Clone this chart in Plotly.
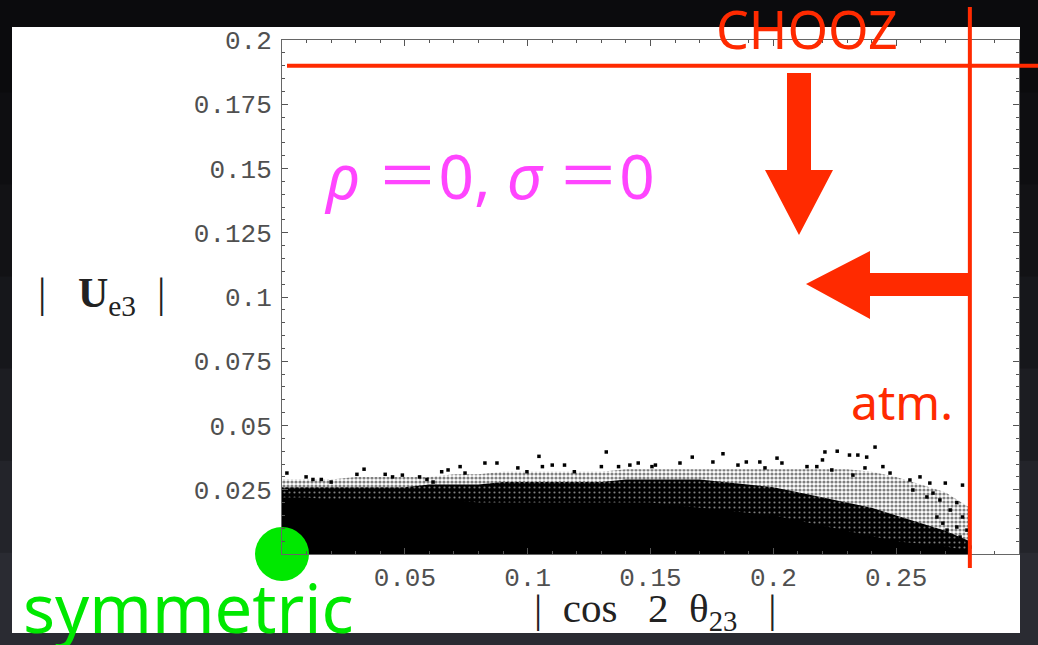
import plotly.graph_objects as go

# ---------------- data ----------------
x_grid = [0.00, 0.01, 0.02, 0.03, 0.04, 0.05, 0.06, 0.07, 0.08, 0.09, 0.10, 0.11, 0.12, 0.13, 0.14,
          0.15, 0.16, 0.17, 0.18, 0.19, 0.20, 0.21, 0.22, 0.23, 0.24, 0.25, 0.26, 0.27, 0.28]
# top of the solid black (saturated) band of points
ue3_core = [0.022, 0.022, 0.021, 0.021, 0.021, 0.021, 0.021, 0.021, 0.020, 0.020, 0.020, 0.020, 0.020,
            0.020, 0.020, 0.020, 0.019, 0.018, 0.017, 0.016, 0.015, 0.013, 0.011, 0.009, 0.007, 0.005,
            0.004, 0.003, 0.001]
# top of the dense dotted fringe
ue3_inner = [0.026, 0.026, 0.026, 0.026, 0.026, 0.026, 0.027, 0.027, 0.027, 0.028, 0.028, 0.028, 0.028,
             0.028, 0.029, 0.029, 0.029, 0.029, 0.028, 0.027, 0.026, 0.024, 0.022, 0.020, 0.018, 0.015,
             0.012, 0.009, 0.005]
# top of the sparse fringe
ue3_outer = [0.029, 0.029, 0.029, 0.030, 0.030, 0.030, 0.030, 0.031, 0.031, 0.032, 0.032, 0.032, 0.032,
             0.032, 0.033, 0.033, 0.033, 0.033, 0.033, 0.033, 0.033, 0.033, 0.033, 0.033, 0.032, 0.030,
             0.027, 0.024, 0.018]

# isolated points above the band
out_x = [0.002, 0.0098, 0.0126, 0.016, 0.020, 0.0305, 0.0334, 0.042, 0.045, 0.049, 0.056, 0.059, 0.0615,
         0.065, 0.0676, 0.0725, 0.0745, 0.0826, 0.0875, 0.096, 0.0997, 0.1046, 0.106, 0.110, 0.115, 0.119,
         0.130, 0.132, 0.137, 0.1416, 0.145, 0.1506, 0.152, 0.162, 0.167, 0.1754, 0.1795, 0.1856, 0.189,
         0.1945, 0.1966, 0.2015, 0.2035, 0.2137, 0.2177, 0.220, 0.221, 0.2238, 0.226, 0.231, 0.2344, 0.238,
         0.2414, 0.2446, 0.2475, 0.2373, 0.2324, 0.2556, 0.2597, 0.2637, 0.270, 0.277, 0.2678, 0.265,
         0.2747, 0.2568, 0.2625, 0.272, 0.277, 0.2788, 0.2747, 0.269, 0.2666, 0.277, 0.276, 0.2707, 0.280]
out_y = [0.0315, 0.030, 0.029, 0.029, 0.028, 0.031, 0.033, 0.031, 0.030, 0.0307, 0.030, 0.029, 0.028,
         0.032, 0.0327, 0.034, 0.0315, 0.0354, 0.0354, 0.0335, 0.032, 0.038, 0.034, 0.0346, 0.0346, 0.032,
         0.034, 0.0397, 0.034, 0.0346, 0.0354, 0.034, 0.0346, 0.0354, 0.0377, 0.0358, 0.039, 0.0346, 0.0358,
         0.0358, 0.0335, 0.0373, 0.0354, 0.034, 0.034, 0.0366, 0.0397, 0.0327, 0.040, 0.0385, 0.0385, 0.0377,
         0.0416, 0.034, 0.0315, 0.0335, 0.0307, 0.0288, 0.030, 0.0276, 0.0276, 0.0268, 0.021, 0.0237,
         0.020, 0.0249, 0.0222, 0.0171, 0.0144, 0.0093, 0.0105, 0.012, 0.0144, 0.0043, 0.0066, 0.0093, 0.0027]

sym_x = [0.0]
sym_y = [0.0]

chooz_ue3 = 0.19       # horizontal CHOOZ bound
atm_cos = 0.28         # vertical atmospheric bound

x_ticks = [0.05, 0.10, 0.15, 0.20, 0.25]
x_ticktext = ["0.05", "0.1", "0.15", "0.2", "0.25"]
y_ticks = [0.025, 0.05, 0.075, 0.10, 0.125, 0.15, 0.175, 0.20]
y_ticktext = ["0.025", "0.05", "0.075", "0.1", "0.125", "0.15", "0.175", "0.2"]

X_RANGE = [0.0, 0.3]
Y_RANGE = [0.0, 0.2]

# ---------------- layout geometry ----------------
FW, FH = 1038, 645
L, R, T, B = 282, 19, 40, 91
PW, PH = FW - L - R, FH - T - B


def px(p):   # pixel x -> paper x
    return (p - L) / PW


def py(p):   # pixel y -> paper y
    return (FH - B - p) / PH


def dx(v):   # data x -> paper x
    return (v - X_RANGE[0]) / (X_RANGE[1] - X_RANGE[0])


def dy(v):   # data y -> paper y
    return (v - Y_RANGE[0]) / (Y_RANGE[1] - Y_RANGE[0])


RED = "#ff2a00"
MAGENTA = "#ff45ff"
GREEN = "#00e800"
NB = "\u00a0"

fig = go.Figure()

fig.add_trace(go.Scatter(
    x=x_grid, y=ue3_outer, mode="lines", line=dict(width=0), fill="tozeroy",
    fillcolor="white",
    fillpattern=dict(shape=".", fgcolor="black", bgcolor="white", size=4, solidity=0.5),
    hoverinfo="skip", showlegend=False))
fig.add_trace(go.Scatter(
    x=x_grid, y=ue3_inner, mode="lines", line=dict(width=0), fill="tozeroy",
    fillcolor="black",
    fillpattern=dict(shape=".", fgcolor="white", bgcolor="black", size=5, solidity=0.15),
    hoverinfo="skip", showlegend=False))
fig.add_trace(go.Scatter(
    x=x_grid, y=ue3_core, mode="lines", line=dict(width=0, color="black"), fill="tozeroy",
    fillcolor="black", hoverinfo="skip", showlegend=False))
fig.add_trace(go.Scatter(
    x=out_x, y=out_y, mode="markers",
    marker=dict(symbol="square", size=3.5, color="black", line=dict(width=0)),
    showlegend=False))
fig.add_trace(go.Scatter(
    x=sym_x, y=sym_y, mode="markers", cliponaxis=False,
    marker=dict(size=54, color=GREEN, line=dict(width=0)), showlegend=False))

shapes = []
# dark slide background (slightly lighter towards the bottom)
bands = ["#0b0b0d", "#0e0e11", "#121215", "#16171b", "#1c1d22", "#23242a", "#2a2b32"]
nb = len(bands)
for i, c in enumerate(bands):
    shapes.append(dict(type="rect", xref="paper", yref="paper", layer="below",
                       x0=px(0), x1=px(FW), y0=py(FH * (i + 1) / nb + 1), y1=py(FH * i / nb),
                       fillcolor=c, line=dict(width=0)))
# white figure panel
shapes.append(dict(type="rect", xref="paper", yref="paper", layer="below",
                   x0=px(12), x1=px(1020), y0=py(633), y1=py(27),
                   fillcolor="white", line=dict(width=0)))
# CHOOZ line and atmospheric line
shapes.append(dict(type="line", xref="paper", yref="paper", layer="above",
                   x0=px(287), x1=px(FW + 2), y0=dy(chooz_ue3), y1=dy(chooz_ue3),
                   line=dict(color=RED, width=4)))
shapes.append(dict(type="line", xref="paper", yref="paper", layer="above",
                   x0=dx(atm_cos), x1=dx(atm_cos), y0=py(568), y1=py(7),
                   line=dict(color=RED, width=4)))


def poly(points):
    return "M " + " L ".join(f"{px(a):.5f},{py(b):.5f}" for a, b in points) + " Z"


down_arrow = [(787, 73), (811, 73), (811, 170), (833, 170), (799, 235), (765, 170), (787, 170)]
left_arrow = [(968, 273), (968, 296), (870, 296), (870, 319), (806, 284), (870, 251), (870, 273)]
for pts in (down_arrow, left_arrow):
    shapes.append(dict(type="path", xref="paper", yref="paper", layer="above", path=poly(pts),
                       fillcolor=RED, line=dict(width=0)))

annotations = [
    dict(text="CHOOZ", x=px(807), y=py(28), font=dict(family="Noto Sans", size=52, color=RED)),
    dict(text="atm.", x=px(902), y=py(402), font=dict(family="Noto Sans", size=48, color=RED)),
    dict(text="<i>ρ</i> ＝0," + NB + "<i>σ</i> ＝0", x=px(489), y=py(175),
         font=dict(family="Noto Sans, Noto Sans CJK JP", size=62, color=MAGENTA)),
    dict(text="symmetric", x=px(188), y=py(607), font=dict(family="Noto Sans", size=67, color=GREEN)),
    dict(text="|" + NB * 3 + "<b>U</b><sub>e3</sub>" + NB * 2 + "|", x=px(101), y=py(296),
         font=dict(family="Liberation Serif", size=42, color="#222222")),
    dict(text="|" + NB * 2 + "cos" + NB * 3 + "2" + NB * 2 + "θ<sub>23</sub>" + NB * 3 + "|",
         x=px(655), y=py(611),
         font=dict(family="Liberation Serif", size=41, color="#222222")),
]
for a in annotations:
    a.update(xref="paper", yref="paper", showarrow=False, xanchor="center", yanchor="middle")

axis_common = dict(
    showgrid=False, zeroline=False, showline=True, linecolor="#666666", linewidth=1,
    mirror="ticks", ticks="inside", ticklen=6, tickcolor="#555555", tickwidth=1,
    tickfont=dict(family="Liberation Mono", size=26, color="#505050"),
)

fig.update_layout(
    width=FW, height=FH,
    margin=dict(l=L, r=R, t=T, b=B, pad=0),
    paper_bgcolor="#101013", plot_bgcolor="white",
    shapes=shapes, annotations=annotations, showlegend=False,
    xaxis=dict(range=X_RANGE, tickvals=x_ticks, ticktext=x_ticktext,
               minor=dict(dtick=0.01, ticks="inside", ticklen=3, tickcolor="#555555"),
               ticklabelstandoff=0, **axis_common),
    yaxis=dict(range=Y_RANGE, tickvals=y_ticks, ticktext=y_ticktext,
               minor=dict(dtick=0.005, ticks="inside", ticklen=3, tickcolor="#555555"),
               ticklabelstandoff=4, **axis_common),
)

fig.write_html("out.html", config={"displayModeBar": False},
               post_script="document.body.style.margin='0px';")
